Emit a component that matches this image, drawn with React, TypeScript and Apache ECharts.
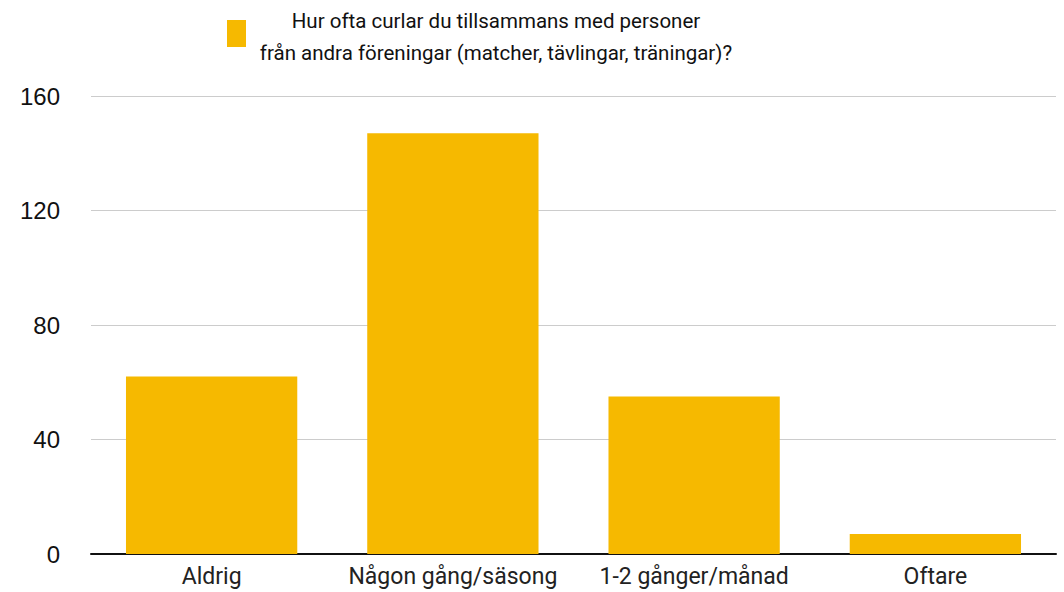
import React, { useEffect, useRef } from "react";
import * as echarts from "echarts";

const categories = ["Aldrig", "Någon gång/säsong", "1-2 gånger/månad", "Oftare"];
const values = [62, 147, 55, 7];
const seriesName = "Hur ofta curlar du tillsammans med personer\nfrån andra föreningar (matcher, tävlingar, träningar)?";
const yTicks = [0, 40, 80, 120, 160];

export default function App() {
  const ref = useRef<HTMLDivElement>(null);
  useEffect(() => {
    const chart = echarts.init(ref.current!, undefined, { renderer: "svg" });
    chart.setOption({
      animation: false,
      backgroundColor: "#ffffff",
      grid: { left: 91, right: 8, top: 96, bottom: 38, containLabel: false },
      xAxis: {
        type: "category",
        data: categories,
        axisLine: { lineStyle: { color: "#111", width: 2 } },
        axisTick: { show: false },
        axisLabel: { interval: 0, fontFamily: "Roboto", fontSize: 23, color: "#222", margin: 11 },
      },
      yAxis: {
        type: "value",
        min: yTicks[0],
        max: yTicks[yTicks.length - 1],
        interval: 40,
        axisLine: { show: false },
        axisTick: { show: false },
        splitLine: { lineStyle: { color: "#cccccc", width: 1 } },
        axisLabel: { fontFamily: "Liberation Sans", fontSize: 24, color: "#111", margin: 31 },
      },
      graphic: [
        { type: "rect", left: 227, top: 20, shape: { width: 19, height: 27 }, style: { fill: "#F6B900" } },
        {
          type: "text",
          x: 496,
          y: 5,
          style: {
            text: seriesName,
            fontFamily: "Roboto",
            fontSize: 20.5,
            fill: "#111",
            align: "center",
            verticalAlign: "top",
            lineHeight: 32,
          },
        },
      ],
      series: [
        {
          type: "bar",
          name: seriesName,
          data: values,
          barCategoryGap: "29%",
          itemStyle: { color: "#F6B900" },
        },
      ],
    });
    return () => chart.dispose();
  }, []);
  return <div ref={ref} style={{ width: 1064, height: 592, position: "absolute", left: 0, top: 0 }} />;
}
